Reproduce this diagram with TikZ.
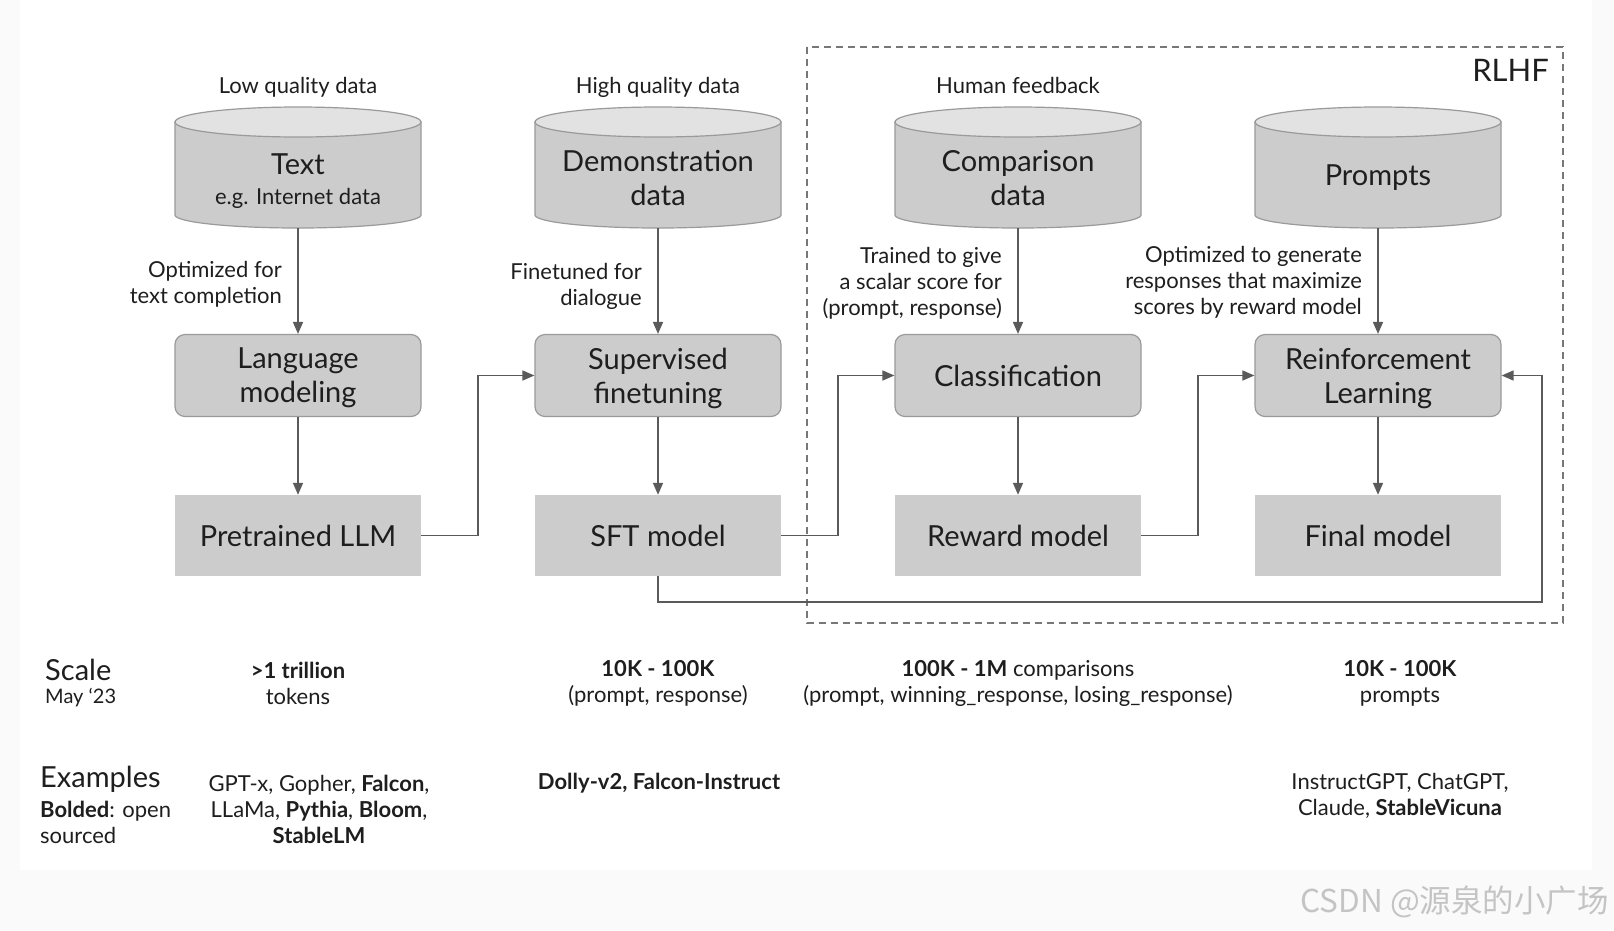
\documentclass[tikz,border=0pt]{standalone}
\usepackage{fontspec}
\setmainfont{Lato}
\newfontfamily\cjkwm{Noto Sans CJK SC}
\usetikzlibrary{arrows.meta}
\definecolor{boxfill}{HTML}{CCCCCC}
\definecolor{topfill}{HTML}{E2E2E2}
\definecolor{edgegray}{HTML}{9A9A9A}
\definecolor{arrowgray}{HTML}{5A5A5A}
\definecolor{txt}{HTML}{1E1E1E}
\definecolor{offwhite}{HTML}{FAFAFA}
\definecolor{dashgray}{HTML}{777777}
\definecolor{wmgray}{HTML}{C4C4C4}
\newcommand\fbig{\fontsize{29}{34}\selectfont}
\newcommand\fmid{\fontsize{22}{26}\selectfont}
\newcommand\fsml{\fontsize{20}{24}\selectfont}
\newcommand\drawcyl[1]{%
  \filldraw[fill=boxfill, draw=edgegray, line width=1.2pt] (#1-123,122) -- (#1-123,215) arc[start angle=180,end angle=0,x radius=123,y radius=13] -- (#1+123,122) -- cycle;
  \filldraw[fill=topfill, draw=edgegray, line width=1.2pt] (#1,122) ellipse[x radius=123, y radius=15];
}
\begin{document}
\begin{tikzpicture}[x=1pt,y=-1pt,
  every node/.style={text=txt, inner sep=0pt},
  rbox/.style={draw=edgegray, line width=1.2pt, fill=boxfill, rounded corners=10pt, minimum width=246pt, minimum height=82pt, align=center, font=\fbig, text depth=0pt},
  sbox/.style={fill=boxfill, minimum width=246pt, minimum height=81pt, align=center, font=\fbig},
  cylnode/.style={minimum width=246pt, minimum height=121pt},
  cyltext/.style={align=center, font=\fbig},
  toplabel/.style={font=\fmid, anchor=base},
  elabel/.style={anchor=east, align=right, font=\fmid},
  btext/.style={align=center, font=\fmid},
  arr/.style={draw=arrowgray, line width=1.6pt, -{Triangle[length=12pt,width=10pt]}},
  dashbox/.style={draw=dashgray, line width=1.6pt, dash pattern=on 7pt off 5pt}
]
\useasboundingbox (0,0) rectangle (1614,930);
\fill[offwhite] (0,0) rectangle (1614,930);
\fill[white] (20,0) rectangle (1592,870);

% RLHF dashed region
\draw[dashbox] (807,47) rectangle (1563,623);
\node[anchor=east, font=\fontsize{31}{34}\selectfont] (rlhf) at (1549,70) {RLHF};

% cylinders
\drawcyl{298}
\drawcyl{658}
\drawcyl{1018}
\drawcyl{1378}
\node[cylnode] (ctext) at (298,167.5) {};
\node[cylnode] (cdemo) at (658,167.5) {};
\node[cylnode] (ccomp) at (1018,167.5) {};
\node[cylnode] (cprom) at (1378,167.5) {};
\node[cyltext] (ttext) at (298,181) {Text\\[-4pt]{\fmid e.g. Internet data}};
\node[cyltext] (tdemo) at (658,178) {Demonstration\\data};
\node[cyltext] (tcomp) at (1018,178) {Comparison\\data};
\node[cyltext] (tprom) at (1378,177.5) {Prompts};

\node[toplabel] (l1) at (298,93) {Low quality data};
\node[toplabel] (l2) at (658,93) {High quality data};
\node[toplabel] (l3) at (1018,93) {Human feedback};

% process boxes
\node[rbox] (lm) at (298,375.5) {Language\\modeling};
\node[rbox] (sf) at (658,375.5) {Supervised\\finetuning};
\node[rbox] (cl) at (1018,375.5) {Classification};
\node[rbox] (rl) at (1378,375.5) {Reinforcement\\Learning};

% model boxes
\node[sbox] (plm) at (298,535.5) {Pretrained LLM};
\node[sbox] (sft) at (658,535.5) {SFT model};
\node[sbox] (rm) at (1018,535.5) {Reward model};
\node[sbox] (fm) at (1378,535.5) {Final model};

% edge labels
\node[elabel] (e1) at (282,284) {Optimized for\\text completion};
\node[elabel] (e2) at (642,286) {Finetuned for\\dialogue};
\node[elabel] (e3) at (1002,283) {Trained to give\\a scalar score for\\(prompt, response)};
\node[elabel] (e4) at (1362,282) {Optimized to generate\\responses that maximize\\scores by reward model};

% connectors
\draw[arr] (ctext.south) -- (lm.north);
\draw[arr] (cdemo.south) -- (sf.north);
\draw[arr] (ccomp.south) -- (cl.north);
\draw[arr] (cprom.south) -- (rl.north);
\draw[arr] (lm.south) -- (plm.north);
\draw[arr] (sf.south) -- (sft.north);
\draw[arr] (cl.south) -- (rm.north);
\draw[arr] (rl.south) -- (fm.north);
\draw[arr] (plm.east) -- ++(57,0) |- (sf.west);
\draw[arr] (sft.east) -- ++(57,0) |- (cl.west);
\draw[arr] (rm.east) -- ++(57,0) |- (rl.west);
\coordinate (fb) at (1542,602);
\draw[arr] (sft.south) |- (fb) |- (rl.east);

% scale row
\node[anchor=west, font=\fbig] (scale) at (45,670) {Scale};
\node[anchor=west, font=\fsml] (may) at (45,698) {May ‘23};
\node[btext] (s1) at (298,683) {\textbf{>1 trillion}\\tokens};
\node[btext] (s2) at (658,683) {\textbf{10K - 100K}\\(prompt, response)};
\node[btext] (s3) at (1018,683) {\textbf{100K - 1M} comparisons\\(prompt, winning\_response, losing\_response)};
\node[btext] (s4) at (1400,683) {\textbf{10K - 100K}\\prompts};

% examples row
\node[anchor=west, font=\fbig] (ex) at (40,779) {Examples};
\node[anchor=west, align=left, font=\fmid] (bo) at (40,822) {\textbf{Bolded}: open\\sourced};
\node[btext] (x1) at (319,809) {GPT-x, Gopher, \textbf{Falcon},\\LLaMa, \textbf{Pythia}, \textbf{Bloom},\\\textbf{StableLM}};
\node[btext] (x2) at (659,783) {\textbf{Dolly-v2, Falcon-Instruct}};
\node[btext] (x3) at (1400,796) {InstructGPT, ChatGPT,\\Claude, \textbf{StableVicuna}};

% watermark
\node[anchor=east, text=wmgray, font=\cjkwm\fontsize{31.5}{34}\selectfont] (wm) at (1609,902) {CSDN @源泉的小广场};
\end{tikzpicture}
\end{document}
